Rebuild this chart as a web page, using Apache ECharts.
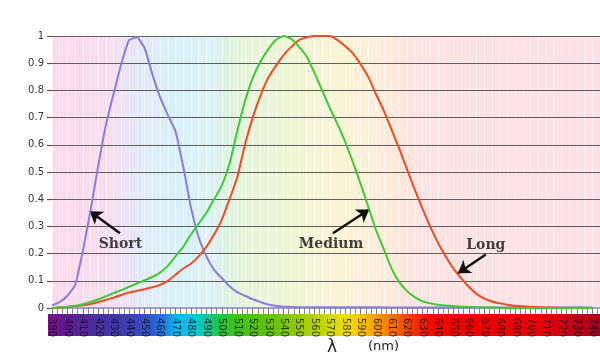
<!DOCTYPE html>
<html><head><meta charset="utf-8">
<script src="https://cdn.jsdelivr.net/npm/echarts@6/dist/echarts.min.js"></script>
<style>html,body{margin:0;padding:0;background:#fff}#c{width:600px;height:364px}</style>
</head><body><div id="c"></div>
<script>
const wavelengths = [390,395,400,405,410,415,420,425,430,435,440,445,450,455,460,465,470,475,480,485,490,495,500,505,510,515,520,525,530,535,540,545,550,555,560,565,570,575,580,585,590,595,600,605,610,615,620,625,630,635,640,645,650,655,660,665,670,675,680,685,690,695,700,705,710,715,720,725,730,735,740];
const shortCone = [0.01,0.022,0.045,0.085,0.21,0.36,0.525,0.675,0.79,0.9,0.985,0.995,0.955,0.86,0.775,0.71,0.65,0.52,0.37,0.26,0.19,0.14,0.11,0.08,0.058,0.045,0.032,0.022,0.013,0.008,0.005,0.004,0.003,
  0.003,0.003,0.003,0.003,0.003,0.003,0.003,0.003,0.003,0.003,
  0.002,0.002,0.002,0.002,0.002,0.002,0.002,0.002,0.002,0.002,0.002,0.002,0.002,0.002,0.002,0.002,0.002,0.002,0.002,0.002,0.002,0.002,0.002,0.002,0.002,0.002,0.002,0.002];
const mediumCone = [0,0.002,0.004,0.008,0.014,0.022,0.032,0.043,0.055,0.066,0.078,0.09,0.102,0.114,0.13,0.155,0.19,0.225,0.27,0.31,0.35,0.4,0.45,0.53,0.65,0.76,0.845,0.905,0.95,0.985,1.0,0.99,0.96,0.925,0.865,0.8,0.735,0.675,0.61,0.535,0.455,0.37,0.285,0.215,0.145,0.095,0.062,0.04,0.025,0.017,0.012,0.009,0.007,0.005,0.004,0.003,0.002,0.002,0.001,
  0,0,0,0,0,0,0,0,0,0,0,0];
const longCone = [0,0.002,0.004,0.007,0.01,0.015,0.022,0.03,0.038,0.048,0.057,0.063,0.069,0.076,0.085,0.1,0.122,0.145,0.163,0.19,0.225,0.27,0.325,0.4,0.48,0.6,0.7,0.78,0.845,0.89,0.93,0.96,0.985,0.995,1.0,1.0,1.0,0.985,0.962,0.935,0.895,0.848,0.785,0.725,0.655,0.585,0.51,0.435,0.365,0.3,0.24,0.19,0.145,0.11,0.078,0.052,0.035,0.024,0.017,0.012,0.008,0.006,0.004,0.003,0.002,0.002,0.001,0.001,0.001,0,0];
const yTicks = [0,0.1,0.2,0.3,0.4,0.5,0.6,0.7,0.8,0.9,1];
// annotation labels: [nm, value]
const labelNames = ['Short','Medium','Long'];
const labelPos = [[434.3,0.235],[570.8,0.235],[671,0.229]];
// arrows: tail -> head (nm, value)
const arrowTails = [[434,0.275],[572,0.275],[671,0.197]];
const arrowHeads = [[414.5,0.356],[595.5,0.362],[653,0.128]];

const X_MIN = 390, X_MAX = 745;
function bgStops(list){ return list.map(([nm,c])=>({offset:(nm-X_MIN)/(X_MAX-X_MIN), color:c})); }
const plotBg = {type:'linear',x:0,y:0,x2:1,y2:0,colorStops:bgStops([
  [390,'#fbdcec'],[425,'#f8dded'],[437,'#eee3f4'],[450,'#e2ebf8'],[465,'#daf0fa'],[492,'#dcf2f6'],[502,'#ddf2e6'],
  [515,'#e6f4da'],[545,'#eff5d5'],[565,'#f5f4d4'],[580,'#fcf3d6'],[605,'#fdecd9'],[630,'#fde3e3'],[745,'#fde1e7']])};
const S_MIN = 387.4;
function stripStops(list){ return list.map(([nm,c])=>({offset:Math.max(0,Math.min(1,(nm-S_MIN)/(X_MAX-S_MIN))), color:c})); }
const stripBg = {type:'linear',x:0,y:0,x2:1,y2:0,colorStops:stripStops([
  [388,'#741283'],[400,'#5e1d92'],[415,'#4f2c9c'],[430,'#4236a8'],[445,'#3746b8'],[455,'#2f5acb'],[462,'#2476dc'],
  [470,'#08b4ee'],[480,'#00c6e0'],[490,'#12c6a2'],[500,'#2ec232'],[515,'#46c01c'],[530,'#62c010'],[545,'#88c800'],
  [560,'#b4d200'],[572,'#d8da00'],[582,'#f2dc00'],[592,'#f8bc00'],[602,'#f89400'],[612,'#f66a00'],[622,'#f03c00'],
  [634,'#ee1000'],[650,'#ee0000'],[705,'#e80008'],[722,'#cc0012'],[745,'#9c0020']])};

const chart = echarts.init(document.getElementById('c'));
chart.setOption({
  animation:false,
  backgroundColor:'#ffffff',
  grid:[
    {left:52,right:0,top:36,bottom:56,show:true,borderWidth:0,backgroundColor:plotBg},
    {left:48,right:0,top:314,height:22,show:true,borderWidth:0,backgroundColor:stripBg}
  ],
  xAxis:[
    {type:'value',gridIndex:0,min:X_MIN,max:X_MAX,interval:10,z:3,
     axisLine:{show:true,onZero:false,lineStyle:{color:'#a49cd6',width:2}},
     axisTick:{show:true,length:6,lineStyle:{color:'#777',width:1}},
     minorTick:{show:true,splitNumber:3,length:6,lineStyle:{color:'#888',width:1}},
     axisLabel:{show:true,rotate:-90,margin:10,fontSize:10,fontFamily:'DejaVu Sans',color:'rgba(20,15,25,0.8)',
       formatter:v=> (v%10===0 && v<=740) ? String(v) : ''},
     splitLine:{show:false}},
    {type:'value',gridIndex:0,min:X_MIN,max:X_MAX,interval:5,show:true,z:0,
     axisLine:{show:false},axisTick:{show:false},axisLabel:{show:false},
     splitLine:{show:true,lineStyle:{color:'rgba(255,255,255,0.5)',width:1}}},
    {type:'value',gridIndex:1,min:S_MIN,max:X_MAX,show:false}
  ],
  yAxis:[
    {type:'value',gridIndex:0,min:0,max:1,interval:0.1,z:2,
     axisLine:{show:false},
     axisTick:{show:true,length:5,lineStyle:{color:'#555',width:1.2}},
     axisLabel:{margin:8,fontSize:10,fontFamily:'DejaVu Sans',color:'#333',
       formatter:v=>{const t=yTicks.find(k=>Math.abs(k-v)<1e-6); return t===undefined?'':String(t);}},
     splitLine:{show:true,lineStyle:{color:'#5e5e5e',width:1.2}}},
    {type:'value',gridIndex:1,min:0,max:1,show:false}
  ],
  series:[
    {type:'line',name:'Short',xAxisIndex:0,yAxisIndex:0,showSymbol:false,smooth:0.15,z:5,
     lineStyle:{color:'#8a7cda',width:2},itemStyle:{color:'#8a7cda'},
     data:wavelengths.map((w,i)=>[w,shortCone[i]])},
    {type:'line',name:'Long',xAxisIndex:0,yAxisIndex:0,showSymbol:false,smooth:0.15,z:5,
     lineStyle:{color:'#ee4a24',width:2},itemStyle:{color:'#ee4a24'},
     data:wavelengths.map((w,i)=>[w,longCone[i]])},
    {type:'line',name:'Medium',xAxisIndex:0,yAxisIndex:0,showSymbol:false,smooth:0.15,z:5,
     lineStyle:{color:'#3ec836',width:2},itemStyle:{color:'#3ec836'},
     data:wavelengths.map((w,i)=>[w,mediumCone[i]])},
    {type:'scatter',name:'labels',xAxisIndex:0,yAxisIndex:0,symbolSize:0,silent:true,z:10,
     itemStyle:{color:'#111'},
     label:{show:true,position:'inside',formatter:p=>p.name,fontFamily:'DejaVu Serif',fontWeight:'bold',fontSize:14,color:'#111'},
     data:labelNames.map((n,i)=>({name:n,value:labelPos[i]})),
     markLine:{silent:true,symbol:['none','arrow'],symbolSize:12,label:{show:false},
       itemStyle:{color:'#111'},
       lineStyle:{color:'#111',width:2.5,type:'solid'},
       data:arrowTails.map((t,i)=>[{coord:t},{coord:arrowHeads[i]}])}}
  ],
  graphic:[
    {type:'text',left:327,top:339,style:{text:'λ',font:'17px "DejaVu Sans"',fill:'#222'}},
    {type:'text',left:368,top:340,style:{text:'(nm)',font:'13px "DejaVu Sans"',fill:'#222'}}
  ]
});
</script></body></html>
